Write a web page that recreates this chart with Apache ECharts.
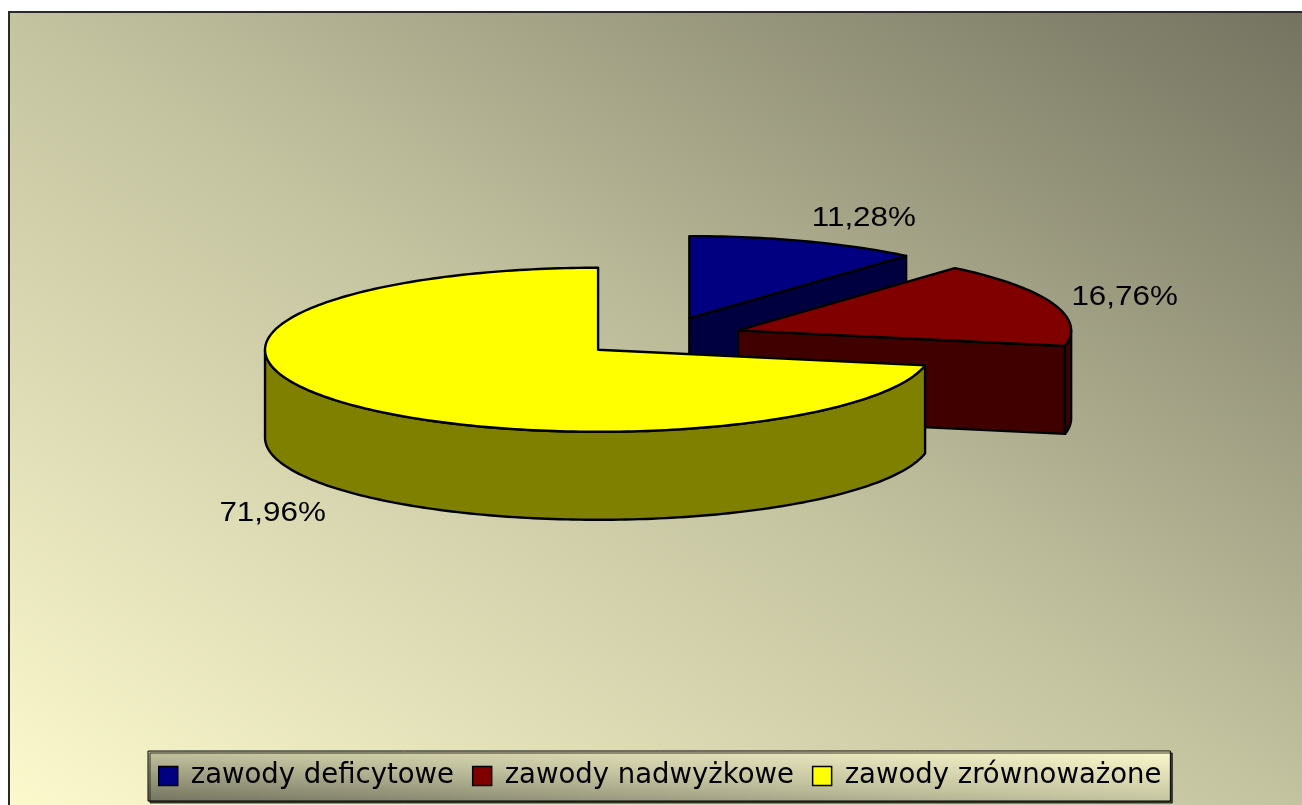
<!DOCTYPE html>
<html>
<head>
<meta charset="utf-8">
<script src="https://cdn.jsdelivr.net/npm/echarts@6/dist/echarts.min.js"></script>
<style>
  html, body { margin: 0; padding: 0; background: #fff; }
  #chart { width: 1302px; height: 805px; }
</style>
</head>
<body>
<div id="chart"></div>
<script>
  // dane wykresu
  const categories = ['zawody deficytowe', 'zawody nadwyżkowe', 'zawody zrównoważone'];
  const shares = [11.28, 16.76, 71.96];
  const topColors = ['#000080', '#800000', '#ffff00'];
  const sideColors = ['#000040', '#400000', '#808000'];

  const total = shares.reduce((a, b) => a + b, 0);
  const startFrac = [];
  let acc = 0;
  shares.forEach(v => { startFrac.push(acc / total); acc += v; });

  // geometria "3D" kola (ulamki szerokosci / wysokosci)
  const pie = { cx: 0.5077, cy: 0.4186, rx: 0.2558, ry: 0.1019, depth: 0.1093, explode: 0.245 };

  const fmt = v => v.toFixed(2).replace('.', ',') + '%';

  function renderSlice(idx) {
    return function (params, api) {
      const W = api.getWidth(), H = api.getHeight();
      const rx = pie.rx * W, ry = pie.ry * H, d = pie.depth * H;
      const a0 = startFrac[idx] * Math.PI * 2;
      const a1 = a0 + api.value(0) / total * Math.PI * 2;
      const m = (a0 + a1) / 2;
      const cx = pie.cx * W + pie.explode * rx * Math.sin(m);
      const cy = pie.cy * H - pie.explode * ry * Math.cos(m);
      const pt = (a, dy) => [cx + rx * Math.sin(a), cy - ry * Math.cos(a) + (dy || 0)];
      const arc = (from, to, dy) => {
        const n = Math.max(2, Math.ceil((to - from) / 0.02));
        const out = [];
        for (let k = 0; k <= n; k++) out.push(pt(from + (to - from) * k / n, dy));
        return out;
      };
      const edge = { stroke: '#000', lineWidth: 2.4, lineJoin: 'round' };
      const children = [];
      let z = 1;
      // sciany promieniowe widoczne od przodu
      [[a0, Math.sin(a0) < -1e-6], [a1, Math.sin(a1) > 1e-6]].forEach(([a, vis]) => {
        if (!vis) return;
        children.push({
          type: 'polygon', z2: z++,
          shape: { points: [[cx, cy], pt(a), pt(a, d), [cx, cy + d]] },
          style: Object.assign({ fill: sideColors[idx] }, edge)
        });
      });
      // sciana zewnetrzna (przednia polowa)
      const lo = Math.max(a0, Math.PI / 2), hi = Math.min(a1, Math.PI * 1.5);
      if (hi > lo) {
        children.push({
          type: 'polygon', z2: z++,
          shape: { points: arc(lo, hi, 0).concat(arc(lo, hi, d).reverse()) },
          style: Object.assign({ fill: sideColors[idx] }, edge)
        });
      }
      // wierzch
      children.push({
        type: 'polygon', z2: z++,
        shape: { points: [[cx, cy]].concat(arc(a0, a1, 0)) },
        style: Object.assign({ fill: topColors[idx] }, edge)
      });
      // etykieta
      const f = 1.06, s = Math.sin(m), c = Math.cos(m);
      children.push({
        type: 'text', z2: z++,
        x: cx + rx * f * s,
        y: cy - ry * f * c + (c < 0 ? d + 10 : 0) + (c > 0.5 ? -4 : -4),
        scaleX: 1.12,
        style: {
          text: fmt(api.value(0)),
          font: '28px "Liberation Sans", Arial, sans-serif',
          fill: '#000',
          align: s >= 0 ? 'left' : 'right',
          verticalAlign: c > 0.5 ? 'bottom' : (c < -0.5 ? 'top' : 'middle')
        }
      });
      return { type: 'group', children: children };
    };
  }

  const myChart = echarts.init(document.getElementById('chart'));

  const bgStops = [
    { offset: 0, color: '#fcf9cd' },
    { offset: 0.5, color: '#c4c3a0' },
    { offset: 1, color: '#737360' }
  ];
  const legendStops = [
    { offset: 0, color: '#737360' },
    { offset: 0.5, color: '#c4c3a0' },
    { offset: 1, color: '#fcf9cd' }
  ];

  const option = {
    animation: false,
    graphic: [
      {
        type: 'rect',
        silent: true,
        z: 0,
        shape: { x: 9, y: 12, width: 1310, height: 810 },
        style: {
          fill: new echarts.graphic.LinearGradient(9, 805, 716, -347, bgStops, true),
          stroke: '#2a2a2a',
          lineWidth: 2
        }
      }
    ],
    legend: {
      data: categories,
      left: 148,
      top: 751,
      icon: 'rect',
      itemWidth: 19,
      itemHeight: 19,
      itemGap: 18,
      padding: [11, 9, 11, 10],
      selectedMode: false,
      itemStyle: { borderColor: '#000', borderWidth: 1.5 },
      textStyle: {
        fontFamily: 'DejaVu Sans',
        fontSize: 27.5,
        color: '#000',
        padding: [0, 0, 0, 8]
      },
      backgroundColor: new echarts.graphic.LinearGradient(0, 1, 0.005, -0.995, legendStops),
      borderColor: '#000',
      borderWidth: 1,
      shadowColor: 'rgba(40,40,30,0.9)',
      shadowOffsetX: 2,
      shadowOffsetY: 2,
      shadowBlur: 0
    },
    series: categories.map((name, i) => ({
      name: name,
      type: 'custom',
      coordinateSystem: 'none',
      z: 2 + i,
      silent: true,
      itemStyle: { color: topColors[i], borderColor: '#000', borderWidth: 1.5 },
      renderItem: renderSlice(i),
      data: [[shares[i]]]
    }))
  };

  myChart.setOption(option);
</script>
</body>
</html>
